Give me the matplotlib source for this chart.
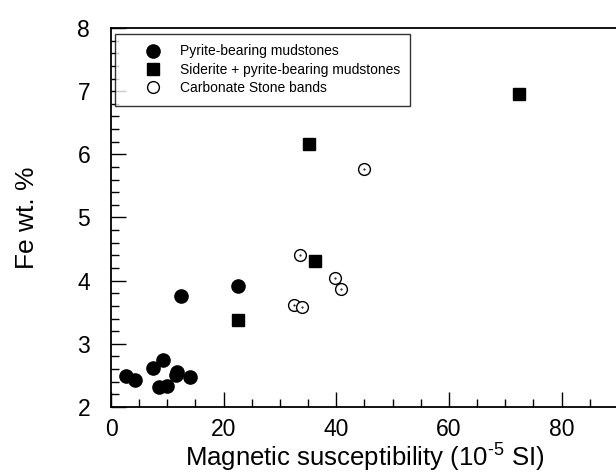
import matplotlib.pyplot as plt
from matplotlib.ticker import MultipleLocator

# data
pyrite_x = [2.7, 4.3, 7.4, 9.3, 8.6, 10.0, 11.8, 11.5, 14.0, 12.4, 22.5]
pyrite_y = [2.49, 2.42, 2.62, 2.74, 2.32, 2.33, 2.55, 2.50, 2.47, 3.75, 3.92]

siderite_x = [72.5, 35.2, 36.3, 22.5]
siderite_y = [6.96, 6.16, 4.31, 3.37]

carb_x = [45.0, 33.6, 39.7, 40.8, 32.4, 33.9]
carb_y = [5.77, 4.41, 4.04, 3.87, 3.61, 3.59]

labels = ['Pyrite-bearing mudstones',
          'Siderite + pyrite-bearing mudstones',
          'Carbonate Stone bands']

plt.rcParams['font.family'] = ['Liberation Sans', 'DejaVu Sans']
plt.rcParams['mathtext.fontset'] = 'custom'
plt.rcParams['mathtext.rm'] = 'Liberation Sans'

fig = plt.figure(figsize=(6.16, 4.74), dpi=100)
ax = fig.add_axes([0.1802, 0.1414, 0.823, 0.7996])

ax.plot(pyrite_x, pyrite_y, linestyle='', marker='o', markersize=9.5,
        color='black', label=labels[0])
ax.plot(siderite_x, siderite_y, linestyle='', marker='s', markersize=8,
        color='black', label=labels[1])
ax.plot(carb_x, carb_y, linestyle='', marker='o', markersize=8.5,
        markerfacecolor='white', markeredgecolor='black', markeredgewidth=1.0,
        label=labels[2])
ax.plot(carb_x, carb_y, linestyle='', marker='.', markersize=1, color='black')

ax.set_xlim(0, 90)
ax.set_ylim(2, 8)
ax.xaxis.set_major_locator(MultipleLocator(20))
ax.xaxis.set_minor_locator(MultipleLocator(5))
ax.yaxis.set_major_locator(MultipleLocator(1))
ax.yaxis.set_minor_locator(MultipleLocator(0.2))

ax.tick_params(which='both', direction='in', width=1.0, labelsize=16.5)
ax.tick_params(which='major', length=11)
ax.tick_params(which='minor', length=6)
ax.tick_params(axis='y', pad=15)
ax.tick_params(axis='x', pad=8)
for s in ax.spines.values():
    s.set_linewidth(1.3)

ax.set_xlabel('Magnetic susceptibility (10$^{\\text{-5}}$ SI)',
              fontsize=18.5, labelpad=-1)
ax.set_ylabel('Fe wt. %', fontsize=19, labelpad=28)

leg = ax.legend(loc='upper left', bbox_to_anchor=(0.008, 0.984), fontsize=10,
                frameon=True, fancybox=False, edgecolor='black', borderpad=0.75,
                handlelength=3.9, handletextpad=0.0, labelspacing=0.32,
                borderaxespad=0)
leg.get_frame().set_linewidth(1.0)

fig.savefig('out.png', dpi=100)
